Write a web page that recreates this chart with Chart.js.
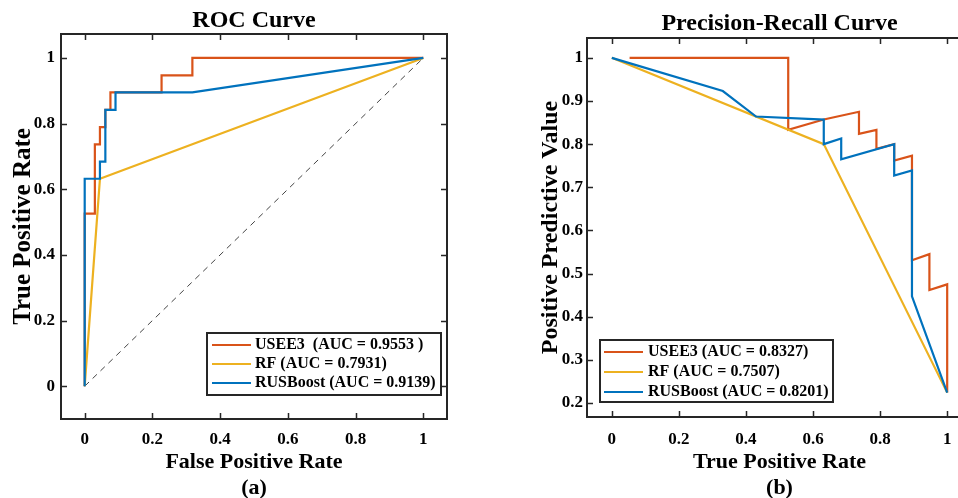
<!DOCTYPE html>
<html>
<head>
<meta charset="utf-8">
<script src="https://cdn.jsdelivr.net/npm/chart.js@4/dist/chart.umd.min.js"></script>
<style>
  html, body { margin: 0; padding: 0; background: #fff; overflow: hidden; }
  #wrap { position: relative; width: 958px; height: 498px; overflow: hidden; background: #fff; }
  #roc { position: absolute; left: 0; top: 0; }
  #pr { position: absolute; left: 480px; top: 0; }
</style>
</head>
<body>
<div id="wrap">
  <canvas id="roc" width="480" height="502"></canvas>
  <canvas id="pr" width="520" height="502"></canvas>
</div>
<script>
// ---- (a) ROC curve: false positive rate vs true positive rate ----
const rocFprUSEE3 = [0, 0, 0.030, 0.030, 0.045, 0.045, 0.061, 0.061, 0.076, 0.076, 0.227, 0.227, 0.318, 0.318, 1];
const rocTprUSEE3 = [0, 0.526, 0.526, 0.737, 0.737, 0.789, 0.789, 0.842, 0.842, 0.895, 0.895, 0.947, 0.947, 1, 1];
const rocFprRF = [0, 0.045, 1];
const rocTprRF = [0, 0.632, 1];
const rocFprRUSBoost = [0, 0, 0.045, 0.045, 0.061, 0.061, 0.091, 0.091, 0.318, 1];
const rocTprRUSBoost = [0, 0.632, 0.632, 0.684, 0.684, 0.842, 0.842, 0.895, 0.895, 1];
const rocChanceX = [0, 1];
const rocChanceY = [0, 1];

// ---- (b) Precision-recall curve: recall vs positive predictive value ----
const prRecallUSEE3 = [0.053, 0.526, 0.526, 0.632, 0.737, 0.737, 0.789, 0.789, 0.842, 0.842, 0.895, 0.895, 0.947, 0.947, 1, 1];
const prPrecisionUSEE3 = [1, 1, 0.833, 0.857, 0.875, 0.824, 0.833, 0.789, 0.800, 0.762, 0.773, 0.531, 0.545, 0.462, 0.475, 0.224];
const prRecallRF = [0, 0.632, 1];
const prPrecisionRF = [1, 0.800, 0.224];
const prRecallRUSBoost = [0, 0.331, 0.430, 0.632, 0.632, 0.684, 0.684, 0.842, 0.842, 0.895, 0.895, 1];
const prPrecisionRUSBoost = [1, 0.923, 0.864, 0.857, 0.800, 0.813, 0.765, 0.800, 0.727, 0.739, 0.447, 0.224];

// ---- legend texts and tick labels ----
const rocLegend = ['USEE3  (AUC = 0.9553 )', 'RF (AUC = 0.7931)', 'RUSBoost (AUC = 0.9139)'];
const prLegend = ['USEE3 (AUC = 0.8327)', 'RF (AUC = 0.7507)', 'RUSBoost (AUC = 0.8201)'];
const unitTickValues = [0, 0.2, 0.4, 0.6, 0.8, 1];
const unitTickLabels = ['0', '0.2', '0.4', '0.6', '0.8', '1'];
const prYTickValues = [0.2, 0.3, 0.4, 0.5, 0.6, 0.7, 0.8, 0.9, 1];
const prYTickLabels = ['0.2', '0.3', '0.4', '0.5', '0.6', '0.7', '0.8', '0.9', '1'];

const seriesColors = ['#D95319', '#EDB120', '#0072BD'];
const SERIF = '"Liberation Serif", "Times New Roman", serif';
Chart.defaults.font.family = SERIF;
Chart.defaults.color = '#000';

const toPoints = (xs, ys) => xs.map((x, i) => ({ x, y: ys[i] }));

function curve(label, xs, ys, color, order) {
  return {
    label, data: toPoints(xs, ys), borderColor: color, backgroundColor: color,
    borderWidth: 2.2, pointRadius: 0, showLine: true, fill: false, tension: 0, order
  };
}

function axis(min, max, values, labels, opts) {
  return {
    type: 'linear', min, max,
    grid: { display: false, drawTicks: false },
    border: { display: false },
    afterBuildTicks: s => { s.ticks = values.map(v => ({ value: v })); },
    afterFit: s => {
      if (s.isHorizontal()) s.height = opts.size; else s.width = opts.size;
    },
    ticks: {
      padding: opts.tickPad, autoSkip: false, maxRotation: 0,
      font: { size: 17, weight: 'bold' },
      callback: v => labels[values.findIndex(t => Math.abs(t - v) < 1e-9)]
    },
    title: {
      display: true, text: opts.title,
      font: { size: opts.titleSize, weight: 'bold', lineHeight: opts.titleLH },
      padding: opts.titlePad
    }
  };
}

// Box-style axes: dark frame round the plot area with inward tick marks on all sides
const boxAxes = {
  id: 'boxAxes',
  afterDraw(chart) {
    const { ctx, chartArea: a, scales } = chart;
    ctx.save();
    ctx.strokeStyle = '#262626';
    ctx.lineWidth = 1.5;
    const len = 6;
    scales.x.ticks.forEach(t => {
      const p = Math.round(scales.x.getPixelForValue(t.value)) + 0.5;
      ctx.beginPath();
      ctx.moveTo(p, a.bottom); ctx.lineTo(p, a.bottom - len);
      ctx.moveTo(p, a.top); ctx.lineTo(p, a.top + len);
      ctx.stroke();
    });
    scales.y.ticks.forEach(t => {
      const p = Math.round(scales.y.getPixelForValue(t.value)) + 0.5;
      ctx.beginPath();
      ctx.moveTo(a.left, p); ctx.lineTo(a.left + len, p);
      ctx.moveTo(a.right, p); ctx.lineTo(a.right - len, p);
      ctx.stroke();
    });
    ctx.lineWidth = 2;
    ctx.strokeRect(a.left, a.top, a.right - a.left, a.bottom - a.top);
    ctx.restore();
  }
};

// Framed legend placed inside the plot area, rows taken from the labelled datasets
const framedLegend = {
  id: 'framedLegend',
  afterDatasetsDraw(chart, args, o) {
    const { ctx, chartArea: a } = chart;
    const items = chart.data.datasets.filter(d => d.label);
    const x = o.fromLeft != null ? a.left + o.fromLeft : a.right - o.fromRight - o.width;
    const y = a.bottom - o.fromBottom - o.height;
    ctx.save();
    ctx.fillStyle = '#fff';
    ctx.fillRect(x, y, o.width, o.height);
    ctx.strokeStyle = '#262626';
    ctx.lineWidth = 2;
    ctx.strokeRect(x, y, o.width, o.height);
    ctx.font = 'bold 16px ' + SERIF;
    ctx.textBaseline = 'middle';
    ctx.textAlign = 'left';
    items.forEach((d, i) => {
      const ry = y + o.firstRow + i * o.rowStep;
      ctx.strokeStyle = d.borderColor;
      ctx.lineWidth = 2.2;
      ctx.beginPath();
      ctx.moveTo(x + o.lineStart, ry);
      ctx.lineTo(x + o.lineStart + 39, ry);
      ctx.stroke();
      ctx.fillStyle = '#000';
      ctx.fillText(d.label, x + 48, ry);
    });
    ctx.restore();
  }
};

function titleOpts(text, padTop, padBottom) {
  return {
    display: true, text, fullSize: false,
    font: { size: 24, weight: 'bold', lineHeight: 1 },
    padding: { top: padTop, bottom: padBottom }
  };
}

new Chart(document.getElementById('roc'), {
  type: 'scatter',
  data: {
    datasets: [
      curve(rocLegend[0], rocFprUSEE3, rocTprUSEE3, seriesColors[0], 3),
      curve(rocLegend[1], rocFprRF, rocTprRF, seriesColors[1], 2),
      curve(rocLegend[2], rocFprRUSBoost, rocTprRUSBoost, seriesColors[2], 1),
      {
        label: '', data: toPoints(rocChanceX, rocChanceY), borderColor: '#444',
        borderWidth: 1, borderDash: [6, 5], pointRadius: 0, showLine: true, order: 4
      }
    ]
  },
  options: {
    responsive: false, animation: false, devicePixelRatio: 1,
    layout: { padding: { left: 0, right: 33, top: 0, bottom: 0 } },
    scales: {
      x: axis(-0.07, 1.07, unitTickValues, unitTickLabels,
        { size: 83, tickPad: 10, title: ['False Positive Rate', '(a)'], titleSize: 22, titleLH: 1.18, titlePad: { top: 0, bottom: 1 } }),
      y: axis(-0.1, 1.073, unitTickValues, unitTickLabels,
        { size: 61, tickPad: 6, title: 'True Positive Rate', titleSize: 25, titleLH: 1.0, titlePad: { top: 11, bottom: 0 } })
    },
    plugins: {
      title: titleOpts('ROC Curve', 9, 1),
      legend: { display: false },
      tooltip: { enabled: false },
      framedLegend: { fromRight: 6, fromBottom: 24, width: 234, height: 62, firstRow: 12, rowStep: 19, lineStart: 5 }
    }
  },
  plugins: [framedLegend, boxAxes]
});

new Chart(document.getElementById('pr'), {
  type: 'scatter',
  data: {
    datasets: [
      curve(prLegend[0], prRecallUSEE3, prPrecisionUSEE3, seriesColors[0], 3),
      curve(prLegend[1], prRecallRF, prPrecisionRF, seriesColors[1], 2),
      curve(prLegend[2], prRecallRUSBoost, prPrecisionRUSBoost, seriesColors[2], 1)
    ]
  },
  options: {
    responsive: false, animation: false, devicePixelRatio: 1,
    layout: { padding: { left: 0, right: 28, top: 0, bottom: 0 } },
    scales: {
      x: axis(-0.074, 1.074, unitTickValues, unitTickLabels,
        { size: 85, tickPad: 12, title: ['True Positive Rate', '(b)'], titleSize: 22, titleLH: 1.18, titlePad: { top: 0, bottom: 1 } }),
      y: axis(0.1675, 1.046, prYTickValues, prYTickLabels,
        { size: 107, tickPad: 4, title: 'Positive Predictive Value', titleSize: 24, titleLH: 1.15, titlePad: { top: 57, bottom: 0 } })
    },
    plugins: {
      title: titleOpts('Precision-Recall Curve', 12, 2),
      legend: { display: false },
      tooltip: { enabled: false },
      framedLegend: { fromLeft: 13, fromBottom: 15, width: 233, height: 62, firstRow: 12, rowStep: 20, lineStart: 4 }
    }
  },
  plugins: [framedLegend, boxAxes]
});
</script>
</body>
</html>
